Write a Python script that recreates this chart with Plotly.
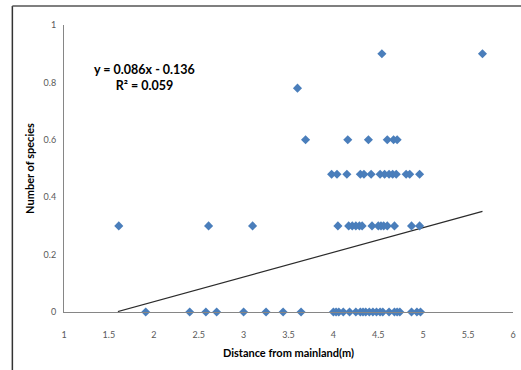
import plotly.graph_objects as go

# Observed points (distance from mainland, number of species index)
x_09 = [4.54, 5.66]
y_09 = [0.9, 0.9]
x_078 = [3.60]
y_078 = [0.78]
x_06 = [3.69, 4.16, 4.39, 4.60, 4.67, 4.71]
y_06 = [0.6] * len(x_06)
x_048 = [3.98, 4.04, 4.15, 4.30, 4.34, 4.42, 4.52, 4.57, 4.62, 4.66, 4.70, 4.81, 4.85, 4.96]
y_048 = [0.48] * len(x_048)
x_03 = [1.61, 2.61, 3.10, 4.05, 4.17, 4.21, 4.25, 4.29, 4.32, 4.43, 4.50, 4.53, 4.56, 4.60, 4.68, 4.87, 4.96]
y_03 = [0.3] * len(x_03)
x_0 = [1.91, 2.40, 2.58, 2.70, 3.00, 3.25, 3.44, 3.64, 4.00, 4.03, 4.06, 4.11, 4.18, 4.25, 4.30,
       4.33, 4.36, 4.40, 4.44, 4.48, 4.52, 4.55, 4.62, 4.68, 4.71, 4.74, 4.87, 4.93, 4.97]
y_0 = [0.0] * len(x_0)

xs = x_09 + x_078 + x_06 + x_048 + x_03 + x_0
ys = y_09 + y_078 + y_06 + y_048 + y_03 + y_0

slope = 0.086
intercept = -0.136
trend_x = [1.6, 5.66]
trend_y = [slope * v + intercept for v in trend_x]

x_ticks = [1, 1.5, 2, 2.5, 3, 3.5, 4, 4.5, 5, 5.5, 6]
y_ticks = [0, 0.2, 0.4, 0.6, 0.8, 1]

fig = go.Figure()
fig.add_trace(go.Scatter(
    x=trend_x, y=trend_y, mode="lines",
    line=dict(color="#2b2b2b", width=1.2), showlegend=False, hoverinfo="skip"))
fig.add_trace(go.Scatter(
    x=xs, y=ys, mode="markers",
    marker=dict(symbol="diamond", size=7, color="#4A7EBB", line=dict(width=0)),
    showlegend=False, cliponaxis=False))

tick_font = dict(family="Lato, Open Sans, sans-serif", size=9, color="#595959")
title_font = dict(family="Lato, Open Sans, sans-serif", size=11, color="#000000")

fig.update_layout(
    width=521, height=370,
    margin=dict(l=64, r=5, t=25, b=58),
    paper_bgcolor="white", plot_bgcolor="white",
    xaxis=dict(range=[1, 6], tickvals=x_ticks, ticktext=[f"{v:g}" for v in x_ticks],
               showgrid=False, zeroline=False, showline=True, linecolor="#868686",
               linewidth=1, ticks="", tickfont=tick_font, ticklabelstandoff=14,
               title=dict(text="<b>Distance from mainland(m)</b>", font=title_font, standoff=10)),
    yaxis=dict(range=[0, 1], tickvals=y_ticks, ticktext=[f"{v:g}" for v in y_ticks],
               showgrid=False, zeroline=False, showline=True, linecolor="#868686",
               linewidth=1, ticks="", tickfont=tick_font, ticklabelstandoff=5,
               title=dict(text="<b>Number of species</b>", font=title_font, standoff=6)),
    annotations=[
        dict(text="<b>y = 0.086x - 0.136</b><br><b>R² = 0.059</b>", xref="paper", yref="paper",
             x=0.18, y=0.817, xanchor="center", yanchor="middle", showarrow=False, align="center",
             font=dict(family="Lato, Open Sans, sans-serif", size=12.5, color="#000000")),
    ],
    shapes=[
        dict(type="line", xref="paper", yref="paper", x0=-0.115, x1=-0.115, y0=1.066, y1=-0.21,
             line=dict(color="#333333", width=1.5)),
        dict(type="line", xref="paper", yref="paper", x0=-0.115, x1=1.02, y0=1.066, y1=1.066,
             line=dict(color="#555555", width=1.5)),
    ],
)

fig.write_html("out.html")
